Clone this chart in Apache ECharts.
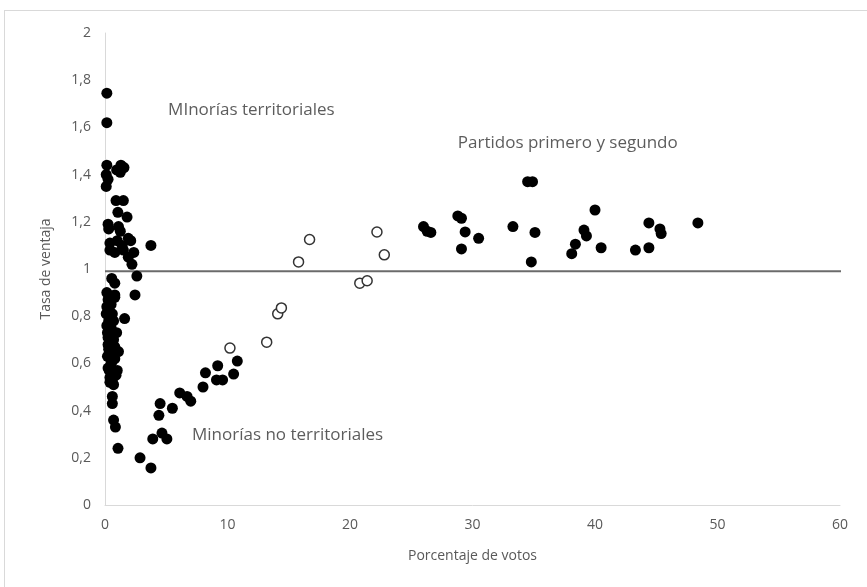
<!DOCTYPE html>
<html>
<head>
<meta charset="utf-8">
<script src="https://cdn.jsdelivr.net/npm/echarts@6/dist/echarts.min.js"></script>
<style>
  html, body { margin: 0; padding: 0; background: #fff; }
  #wrap { position: relative; width: 867px; height: 587px; overflow: hidden; }
  #frame { position: absolute; left: 4px; top: 10px; width: 870px; height: 590px; border: 1px solid #d9d9d9; box-sizing: border-box; pointer-events: none; }
  #chart { position: absolute; left: 0; top: 0; width: 867px; height: 587px; }
</style>
</head>
<body>
<div id="wrap">
  <div id="chart"></div>
  <div id="frame"></div>
</div>
<script>
// Minorías territoriales: small vote share, wide spread of advantage rate
const minoriasTerritoriales = [
  [0.15,1.745],[0.15,1.62],
  [0.15,1.44],[0.1,1.40],[0.25,1.38],[0.1,1.35],
  [1.3,1.44],[1.55,1.43],[0.95,1.42],[1.25,1.41],
  [0.9,1.29],[1.5,1.29],[1.05,1.24],[1.8,1.22],
  [0.25,1.19],[0.3,1.17],[1.1,1.18],[1.25,1.16],
  [1.9,1.13],[0.4,1.11],[1.0,1.12],[1.4,1.10],[2.1,1.12],
  [0.4,1.08],[0.8,1.07],[1.5,1.08],[2.35,1.07],[1.9,1.05],
  [2.2,1.02],[2.6,0.97],[3.75,1.10],
  [0.55,0.96],[0.8,0.94],[0.15,0.90],[0.8,0.89],[2.45,0.89],
  [0.25,0.87],[0.15,0.84],[0.8,0.88],[0.6,0.81],[1.6,0.79],
  [0.1,0.81],[0.3,0.78],[0.4,0.76],[0.5,0.75],[0.95,0.73],
  [0.2,0.73],[0.25,0.71],[0.7,0.70],[0.25,0.68],[0.3,0.66],
  [1.1,0.65],[0.4,0.63],[0.8,0.62],[0.6,0.61],[0.5,0.60],
  [0.25,0.58],[1.0,0.57],[0.6,0.56],[0.9,0.55],[0.4,0.54],
  [0.6,0.53],[0.4,0.52],[0.7,0.51],
  [0.5,0.85],[0.35,0.82],[0.7,0.78],[0.15,0.76],[0.6,0.72],
  [0.45,0.69],[0.8,0.67],[0.2,0.63],[0.7,0.64],[0.35,0.57]
];

// Minorías no territoriales
const minoriasNoTerritoriales = [
  [0.6,0.46],[0.6,0.43],[0.7,0.36],[0.85,0.33],[1.06,0.24],
  [2.86,0.20],[3.75,0.157],[3.9,0.28],[4.65,0.305],[5.05,0.28],
  [4.5,0.43],[4.4,0.38],[5.5,0.41],[6.1,0.475],[6.7,0.46],
  [7.0,0.44],[8.0,0.50],[8.2,0.56],[9.1,0.53],[9.6,0.53],
  [9.2,0.59],[10.5,0.555],[10.8,0.61]
];

// Open markers (intermediate parties)
const partidosIntermedios = [
  [10.2,0.665],[13.2,0.69],[14.1,0.81],[14.4,0.835],[15.8,1.03],
  [16.7,1.125],[20.8,0.94],[21.4,0.95],[22.2,1.157],[22.8,1.06]
];

// Partidos primero y segundo
const partidosPrincipales = [
  [26.0,1.18],[26.3,1.16],[26.6,1.155],[28.8,1.225],[29.1,1.215],
  [29.4,1.157],[29.1,1.085],[30.5,1.13],[33.3,1.18],[34.5,1.37],
  [34.9,1.37],[35.1,1.155],[34.8,1.03],[38.1,1.065],[38.4,1.105],
  [39.1,1.165],[39.3,1.14],[40.0,1.25],[40.5,1.09],[43.3,1.08],
  [44.4,1.09],[44.4,1.195],[45.3,1.17],[45.4,1.15],[48.4,1.195]
];

// Reference level of the advantage rate
const lineaReferencia = [[0,0.99],[63,0.99]];

// Group labels anchored in data space
const etiquetas = [
  [5.15,1.674,'MInorías territoriales'],
  [28.8,1.534,'Partidos primero y segundo'],
  [7.1,0.297,'Minorías no territoriales']
];

const xTicks = { min: 0, max: 60, interval: 10 };
const yTicks = { min: 0, max: 2, interval: 0.2 };

const FONT = '"Open Sans", "Noto Sans", sans-serif';
const filled = { symbol: 'circle', symbolSize: 11, itemStyle: { color: '#000', opacity: 1 } };

const chart = echarts.init(document.getElementById('chart'), null, { renderer: 'canvas' });
chart.setOption({
  animation: false,
  backgroundColor: '#fff',
  grid: { left: 105, right: 27, top: 33, bottom: 82, containLabel: false },
  xAxis: {
    type: 'value',
    min: xTicks.min, max: xTicks.max, interval: xTicks.interval,
    name: 'Porcentaje de votos',
    nameLocation: 'middle', nameGap: 44,
    nameTextStyle: { color: '#595959', fontSize: 14, fontFamily: FONT },
    axisLine: { show: true, lineStyle: { color: '#d9d9d9', width: 1 } },
    axisTick: { show: false },
    splitLine: { show: false },
    axisLabel: { color: '#595959', fontSize: 14, fontFamily: FONT, margin: 13 }
  },
  yAxis: {
    type: 'value',
    min: yTicks.min, max: yTicks.max, interval: yTicks.interval,
    name: 'Tasa de ventaja',
    nameLocation: 'middle', nameGap: 52, nameRotate: 90,
    nameTextStyle: { color: '#595959', fontSize: 14, fontFamily: FONT },
    axisLine: { show: true, onZero: false, lineStyle: { color: '#d9d9d9', width: 1 } },
    axisTick: { show: false },
    splitLine: { show: false },
    axisLabel: {
      color: '#595959', fontSize: 14, fontFamily: FONT, margin: 14,
      formatter: v => String(Math.round(v * 10) / 10).replace('.', ',')
    }
  },
  series: [
    {
      type: 'line', data: lineaReferencia, symbol: 'none', clip: false, z: 1,
      lineStyle: { color: '#6b6b6b', width: 2 }
    },
    Object.assign({ type: 'scatter', data: minoriasTerritoriales, z: 3 }, filled),
    Object.assign({ type: 'scatter', data: minoriasNoTerritoriales, z: 3 }, filled),
    {
      type: 'scatter', data: partidosIntermedios, symbol: 'circle', symbolSize: 10, z: 3,
      itemStyle: { color: '#fff', borderColor: '#333', borderWidth: 1.5, opacity: 1 }
    },
    Object.assign({ type: 'scatter', data: partidosPrincipales, z: 3 }, filled),
    {
      type: 'scatter', symbolSize: 0, z: 4, silent: true,
      data: etiquetas.map(e => ({ value: [e[0], e[1]], name: e[2] })),
      label: {
        show: true, position: 'inside', align: 'left', verticalAlign: 'middle',
        formatter: p => p.name,
        color: '#333', fontSize: 17, fontFamily: FONT
      }
    }
  ]
});
</script>
</body>
</html>
